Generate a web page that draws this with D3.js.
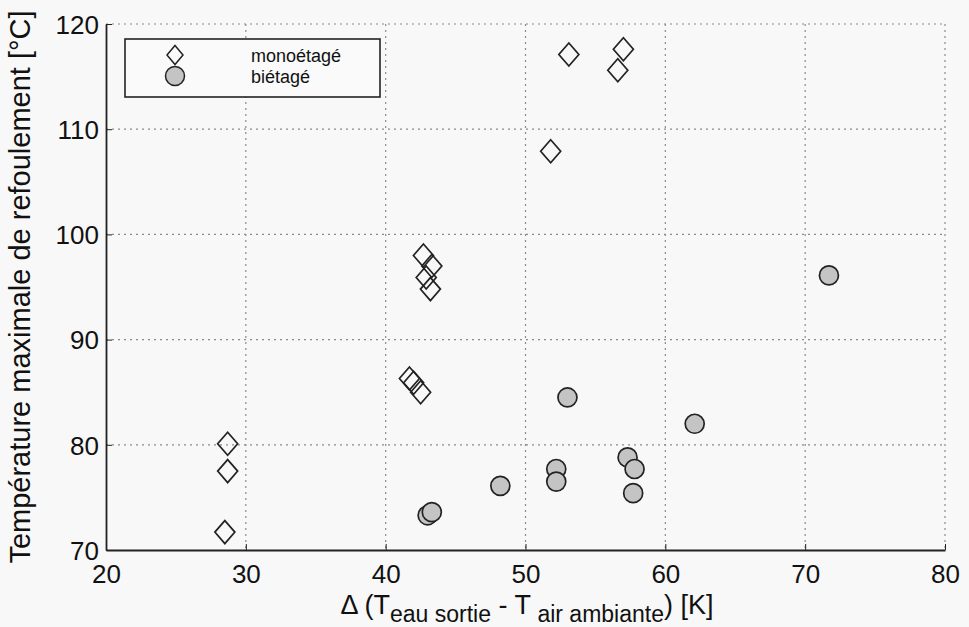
<!DOCTYPE html>
<html>
<head>
<meta charset="utf-8">
<script src="https://cdn.jsdelivr.net/npm/d3@7/dist/d3.min.js"></script>
<style>
html,body{margin:0;padding:0;background:#f8f8f8;}
svg{display:block;font-family:"Liberation Sans",Arial,Helvetica,sans-serif;}
</style>
</head>
<body>
<svg id="chart" width="969" height="627"></svg>
<script>
// Data
const monoX = [28.5, 28.7, 28.7, 41.7, 42.0, 42.5, 42.7, 43.3, 42.9, 43.2, 51.8, 53.1, 57.0, 56.6];
const monoY = [71.7, 77.5, 80.1, 86.3, 85.9, 85.0, 98.0, 97.0, 95.9, 94.8, 107.9, 117.1, 117.6, 115.6];
const biX = [43.0, 43.3, 48.2, 52.2, 52.2, 53.0, 57.3, 57.8, 57.7, 62.1, 71.7];
const biY = [73.3, 73.6, 76.1, 77.7, 76.5, 84.5, 78.8, 77.7, 75.4, 82.0, 96.1];
const xTicks = [20, 30, 40, 50, 60, 70, 80];
const yTicks = [70, 80, 90, 100, 110, 120];
const legendLabels = ["monoétagé", "biétagé"];

(function () {
const svg = d3.select("#chart");
const mL = 106, mR = 945, mT = 24, mB = 550;
const x = d3.scaleLinear().domain([20, 80]).range([mL, mR]);
const y = d3.scaleLinear().domain([70, 120]).range([mB, mT]);

// grid
const grid = svg.append("g").attr("stroke", "#8a8a8a").attr("stroke-width", 1.2).attr("stroke-dasharray", "2,4");
grid.selectAll(".gx").data(xTicks.slice(1)).join("line")
  .attr("x1", d => x(d)).attr("x2", d => x(d)).attr("y1", mT).attr("y2", mB);
grid.selectAll(".gy").data(yTicks.slice(1)).join("line")
  .attr("x1", mL).attr("x2", mR).attr("y1", d => y(d)).attr("y2", d => y(d));

// axes
const fs = 26;
const xAxis = svg.append("g").attr("transform", `translate(0,${mB})`)
  .call(d3.axisBottom(x).tickValues(xTicks).tickSize(-6).tickPadding(15).tickSizeOuter(0));
const yAxis = svg.append("g").attr("transform", `translate(${mL},0)`)
  .call(d3.axisLeft(y).tickValues(yTicks).tickSize(-6).tickPadding(7).tickSizeOuter(0));
[xAxis, yAxis].forEach(a => {
  a.select(".domain").attr("stroke", "#222").attr("stroke-width", 1.8);
  a.selectAll(".tick line").attr("stroke", "#222").attr("stroke-width", 1);
  a.selectAll(".tick text").attr("fill", "#111").style("font-size", fs + "px")
    .style("font-family", "'Liberation Sans',Arial,sans-serif");
});
xAxis.selectAll(".tick text").attr("dy", "0.71em");
yAxis.selectAll(".tick text").attr("dy", "0.36em");

// y label
svg.append("text").attr("transform", `translate(30,287) rotate(-90)`)
  .attr("text-anchor", "middle").style("font-size", "29px").attr("fill", "#111")
  .text("Température maximale de refoulement [°C]");

// x label
const xl = svg.append("text").attr("x", 527).attr("y", 614).attr("text-anchor", "middle")
  .style("font-size", "27px").attr("fill", "#111");
xl.append("tspan").text("Δ (T");
xl.append("tspan").attr("dy", 8).style("font-size", "23px").text("eau sortie");
xl.append("tspan").attr("dy", -8).text(" - T");
xl.append("tspan").attr("dy", 8).style("font-size", "23px").text(" air ambiante");
xl.append("tspan").attr("dy", -8).text(") [K]");

const diamond = (cx, cy, w, h) => `M${cx},${cy - h}L${cx + w},${cy}L${cx},${cy + h}L${cx - w},${cy}Z`;

// points
svg.append("g").selectAll("path").data(monoX.map((d, i) => [d, monoY[i]])).join("path")
  .attr("d", d => diamond(x(d[0]), y(d[1]), 10, 11.5))
  .attr("fill", "none").attr("stroke", "#222").attr("stroke-width", 1.7);
svg.append("g").selectAll("circle").data(biX.map((d, i) => [d, biY[i]])).join("circle")
  .attr("cx", d => x(d[0])).attr("cy", d => y(d[1])).attr("r", 9.5)
  .attr("fill", "#c4c4c4").attr("stroke", "#222").attr("stroke-width", 1.7);

// legend
const lg = svg.append("g");
lg.append("rect").attr("x", 125).attr("y", 39).attr("width", 255).attr("height", 58)
  .attr("fill", "#fafafa").attr("stroke", "#222").attr("stroke-width", 1.6);
lg.append("path").attr("d", diamond(175, 55, 8, 9.5)).attr("fill", "none").attr("stroke", "#222").attr("stroke-width", 1.5);
lg.append("circle").attr("cx", 175).attr("cy", 76).attr("r", 9.5).attr("fill", "#c4c4c4").attr("stroke", "#222").attr("stroke-width", 1.5);
lg.selectAll("text").data(legendLabels).join("text")
  .attr("x", 251).attr("y", (d, i) => 62 + i * 21).style("font-size", "18px").attr("fill", "#111").text(d => d);
})();
</script>
</body>
</html>
